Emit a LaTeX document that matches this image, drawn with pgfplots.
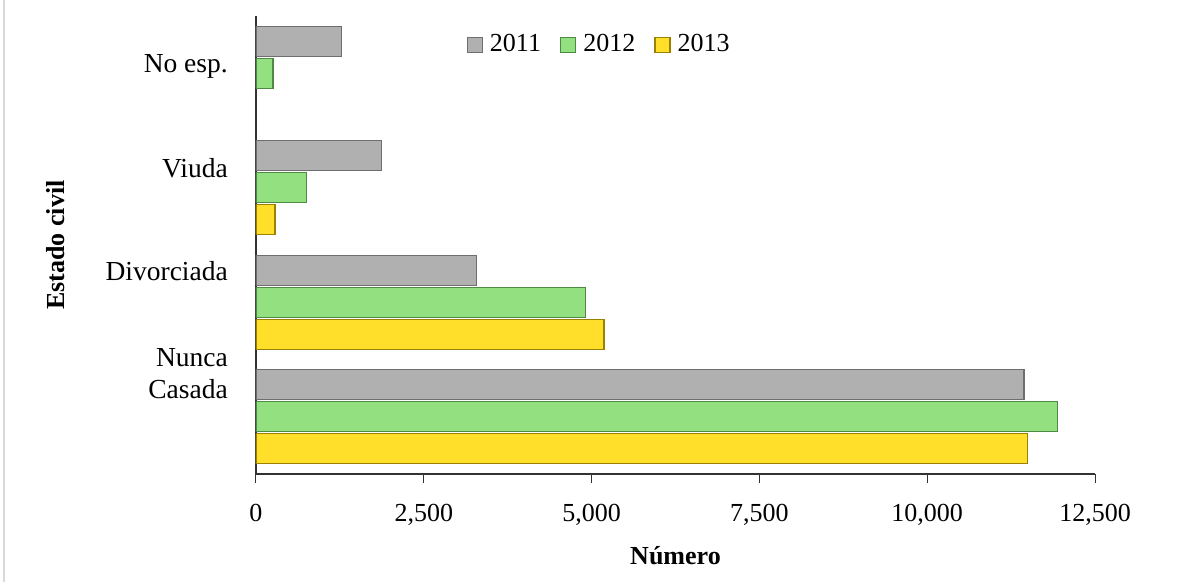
\documentclass[border=0pt]{standalone}
\usepackage{fontspec}
\setmainfont{Liberation Serif}
\usepackage{pgfplots}
\pgfplotsset{compat=1.18}

\definecolor{c11}{HTML}{B0B0B0}
\definecolor{c11d}{HTML}{6E6E6E}
\definecolor{c12}{HTML}{92E080}
\definecolor{c12d}{HTML}{4F8A45}
\definecolor{c13}{HTML}{FFDF2A}
\definecolor{c13d}{HTML}{9A8200}

\pgfplotsset{
  sq/.style={legend image code/.code={\draw[##1] (0bp,-7.5bp) rectangle (15bp,7.5bp);}},
  bev/.style={draw=#1d, line width=1.3bp, fill=#1},
}

\begin{document}
\fontsize{26bp}{32bp}\selectfont
\begin{tikzpicture}
\path[use as bounding box] (-256bp,-108bp) rectangle (934bp,474bp);
\draw[black!15, line width=2bp] (-252bp,-108bp) -- (-252bp,474bp);
\begin{axis}[
  scale only axis,
  width=839bp, height=458bp,
  xbar=2bp, bar width=30bp,
  xmin=0, xmax=12500,
  ymin=-0.5, ymax=3.5,
  axis lines*=left,
  axis line style={black!80, line width=1.2bp},
  tick align=outside,
  major tick length=9bp,
  xtick={0,2500,5000,7500,10000,12500},
  xtick style={black!80, line width=1bp},
  scaled x ticks=false,
  /pgf/number format/.cd, 1000 sep={,}, assume math mode=true, /pgfplots/.cd,
  ytick={0.38,1.27,2.17,3.06},
  yticklabels={{Nunca\\Casada},Divorciada,Viuda,{No esp.}},
  ytick style={draw=none},
  tick label style={font=\fontsize{26bp}{32bp}\selectfont},
  yticklabel style={align=right, inner sep=0pt, xshift=-19bp, font=\fontsize{27.5bp}{32bp}\selectfont},
  xticklabel style={inner sep=0pt, yshift=-21bp},
  xlabel={\textbf{Número}},
  ylabel={\textbf{Estado civil}},
  label style={font=\fontsize{27bp}{32bp}\selectfont},
  every axis x label/.style={at={(axis description cs:0.5,-0.179)}, anchor=center},
  every axis y label/.style={at={(axis description cs:-0.2384,0.5)}, anchor=center, rotate=90},
  reverse legend,
  legend style={at={(axis description cs:0.409,0.937)}, anchor=center,
    draw=none, fill=none, legend columns=-1,
    font=\fontsize{26bp}{32bp}\selectfont,
    /tikz/every odd column/.append style={column sep=5bp},
    /tikz/every even column/.append style={column sep=17bp}},
]
\addplot[sq, bev=c13] coordinates {(11490,0) (5185,1) (285,2)};
\addlegendentry{2013}
\addplot[sq, bev=c12] coordinates {(11940,0) (4910,1) (750,2) (255,3)};
\addlegendentry{2012}
\addplot[sq, bev=c11] coordinates {(11440,0) (3280,1) (1870,2) (1270,3)};
\addlegendentry{2011}
\end{axis}
\end{tikzpicture}
\end{document}
